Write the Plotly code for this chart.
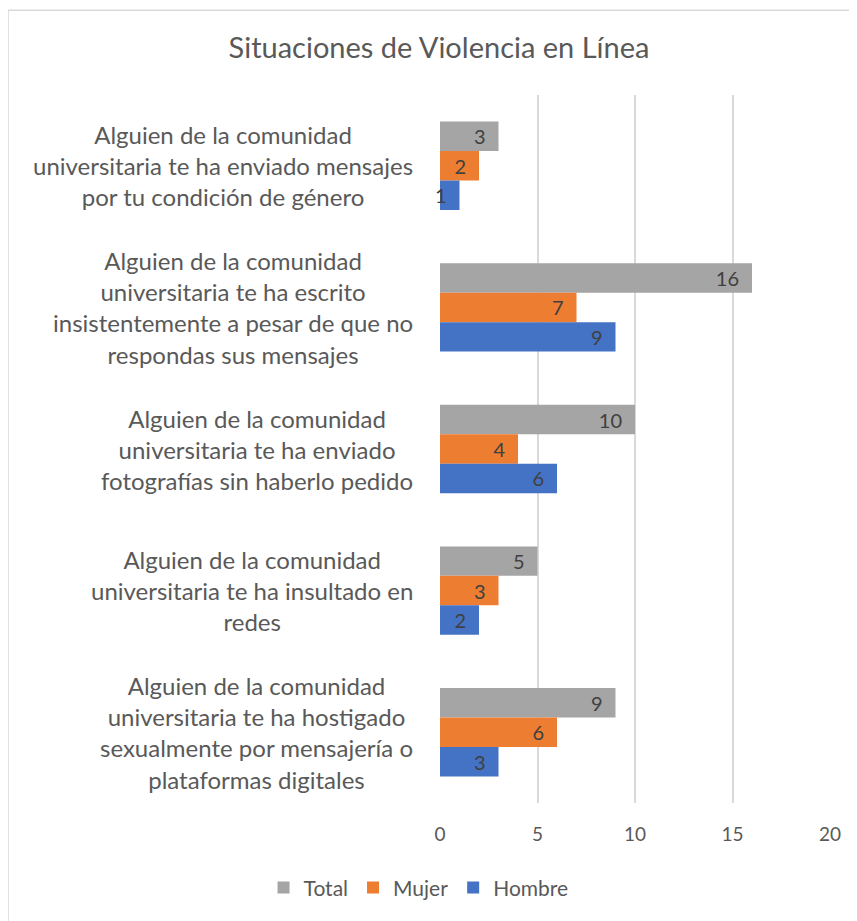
import plotly.graph_objects as go

categories = [
    "Alguien de la comunidad<br>universitaria te ha enviado mensajes<br>por tu condición de género",
    "Alguien de la comunidad<br>universitaria te ha escrito<br>insistentemente a pesar de que no<br>respondas sus mensajes",
    "Alguien de la comunidad<br>universitaria te ha enviado<br>fotografías sin haberlo pedido",
    "Alguien de la comunidad<br>universitaria te ha insultado en<br>redes",
    "Alguien de la comunidad<br>universitaria te ha hostigado<br>sexualmente por mensajería o<br>plataformas digitales",
]
total = [3, 16, 10, 5, 9]
mujer = [2, 7, 4, 3, 6]
hombre = [1, 9, 6, 2, 3]
x_ticks = [0, 5, 10, 15, 20]

FONT = "Lato"
TXT = "#404040"
LBL = "#595959"

fig = go.Figure()
for name, vals, color in [("Total", total, "#A5A5A5"), ("Mujer", mujer, "#ED7D31"), ("Hombre", hombre, "#4472C4")]:
    fig.add_trace(go.Bar(
        y=categories, x=vals, name=name, orientation="h",
        marker=dict(color=color, line=dict(width=0)),
        texttemplate="%{x}\u2002", textposition="inside", insidetextanchor="end",
        constraintext="none", textangle=0,
        textfont=dict(family=FONT, size=20, color=TXT),
        cliponaxis=False,
    ))

for c in categories:
    fig.add_annotation(
        x=-0.064, xref="paper", y=c, yref="y", text=c, showarrow=False,
        xanchor="right", yanchor="middle", align="center",
        font=dict(family=FONT, size=24, color=LBL),
    )

fig.add_shape(type="rect", xref="paper", yref="paper",
              x0=-1.1077, x1=1.3, y0=-0.3, y1=1.1197,
              line=dict(color="#D9D9D9", width=1.5), layer="below")

fig.update_layout(
    width=849, height=913,
    margin=dict(l=432, r=27, t=87, b=116),
    paper_bgcolor="white", plot_bgcolor="white",
    barmode="group", bargap=0.376, bargroupgap=0,
    title=dict(text="Situaciones de Violencia en Línea", x=0.5077, xanchor="center",
               y=0.956, yanchor="middle",
               font=dict(family=FONT, size=29, color=LBL)),
    xaxis=dict(range=[0, 20], tickvals=x_ticks, showgrid=True, gridcolor="#D9D9D9",
               gridwidth=1.5, zeroline=False, showline=False,
               tickfont=dict(family=FONT, size=19, color=LBL),
               ticks="", ticklabelstandoff=18),
    yaxis=dict(autorange="reversed", showticklabels=False, showgrid=False,
               zeroline=False, showline=False, ticks=""),
    legend=dict(orientation="h", x=-0.055, xanchor="center", y=-0.12, yanchor="middle",
                font=dict(family=FONT, size=21, color=LBL), itemwidth=30,
                traceorder="normal"),
    showlegend=True,
)
fig.write_html("out.html")
